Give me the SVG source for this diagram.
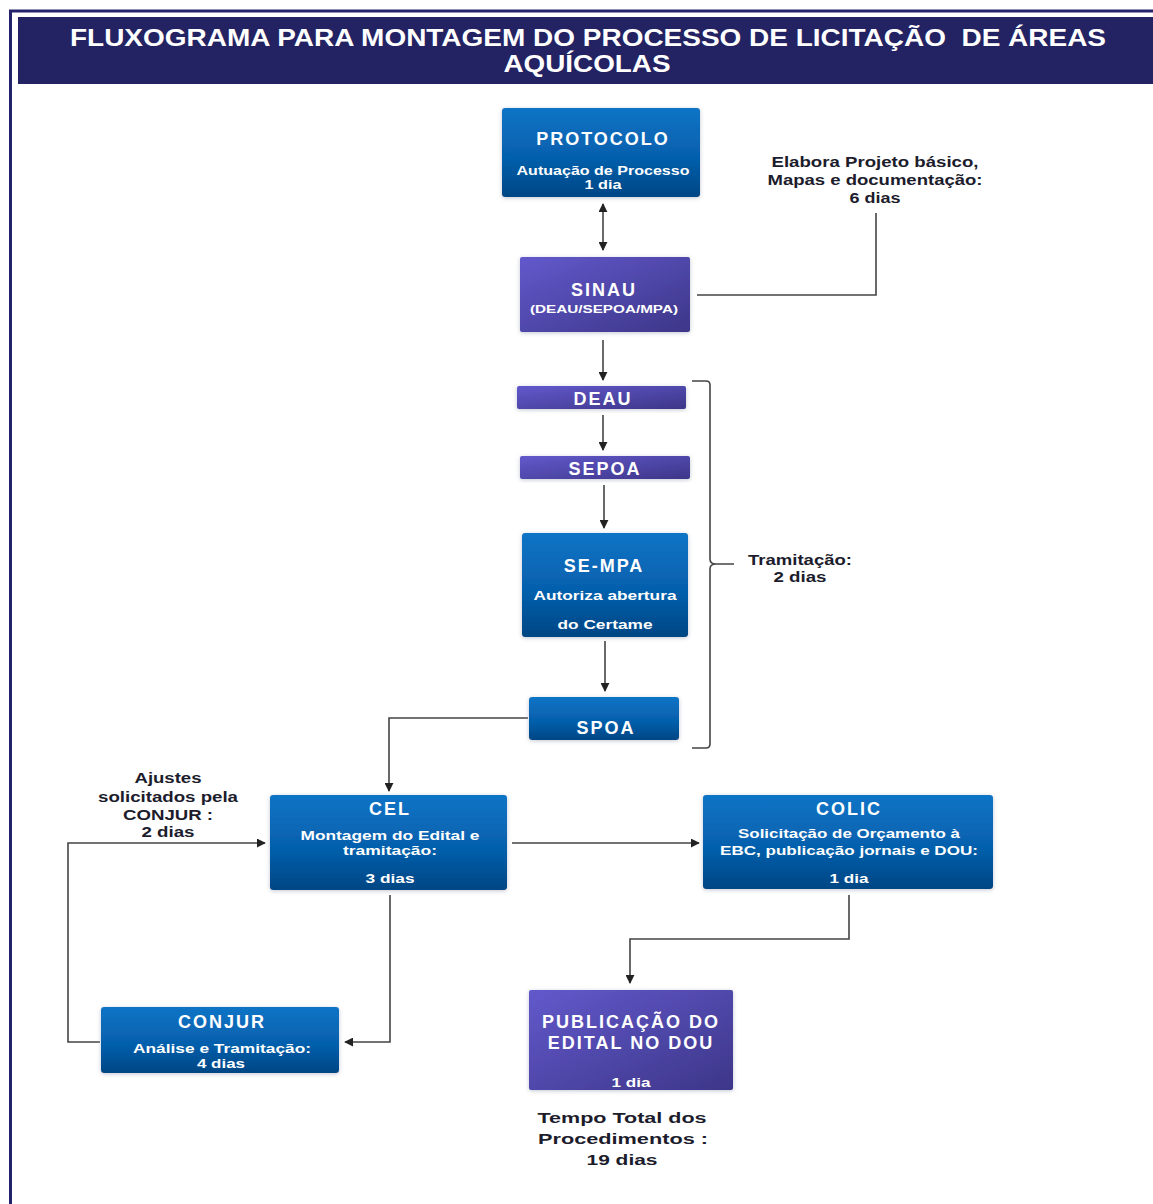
<svg xmlns="http://www.w3.org/2000/svg" width="1153" height="1204" viewBox="0 0 1153 1204">
<defs>
<linearGradient id="gBlue" x1="0" y1="0" x2="0" y2="1">
<stop offset="0" stop-color="#0a74c6"/>
<stop offset="0.55" stop-color="#0660ad"/>
<stop offset="1" stop-color="#034684"/>
</linearGradient>
<linearGradient id="gPurple" x1="0" y1="0" x2="1" y2="1">
<stop offset="0" stop-color="#6259cc"/>
<stop offset="1" stop-color="#3d3688"/>
</linearGradient>
<filter id="glow" x="-10%" y="-15%" width="120%" height="130%">
<feGaussianBlur in="SourceAlpha" stdDeviation="2"/>
<feOffset dx="0" dy="1" result="b"/>
<feFlood flood-color="#9aa3b5" flood-opacity="0.6"/>
<feComposite in2="b" operator="in"/>
<feMerge><feMergeNode/><feMergeNode in="SourceGraphic"/></feMerge>
</filter>
<marker id="arr" viewBox="0 0 10 10" refX="9" refY="5" markerWidth="9" markerHeight="9" markerUnits="userSpaceOnUse" orient="auto-start-reverse">
<path d="M0,0 L10,5 L0,10 z" fill="#222"/>
</marker>
</defs>
<style>
.blue{fill:url(#gBlue);filter:url(#glow)}
.purple{fill:url(#gPurple);filter:url(#glow)}
.t{font-family:"Liberation Sans",Arial,sans-serif;font-weight:bold;fill:#fff;text-anchor:middle}
.ttl{font-size:18px;letter-spacing:2px}
.sub{font-size:13px}
.lbl{font-family:"Liberation Sans",Arial,sans-serif;font-weight:bold;fill:#1c1c2c;text-anchor:middle;font-size:14px}
.ln{fill:none;stroke:#444;stroke-width:1.6}
.ar{fill:none;stroke:#444;stroke-width:1.6;marker-end:url(#arr)}
</style>
<rect width="1153" height="1204" fill="#fff"/>
<g id="frame">
<path d="M10.5,1204 V11 H1153" fill="none" stroke="#24226a" stroke-width="3"/>
<rect x="18" y="17" width="1135" height="67" fill="#232263"/>
<text class="t" x="588" y="46" font-size="24" textLength="1036" lengthAdjust="spacingAndGlyphs">FLUXOGRAMA PARA MONTAGEM DO PROCESSO DE LICITAÇÃO&#160; DE ÁREAS</text>
<text class="t" x="587" y="72" font-size="24" textLength="167" lengthAdjust="spacingAndGlyphs">AQUÍCOLAS</text>
</g>
<g id="connectors">
<line class="ar" x1="603" y1="204" x2="603" y2="250" marker-start="url(#arr)"/>
<polyline class="ln" points="697,295 876,295 876,213"/>
<line class="ar" x1="603" y1="340" x2="603" y2="380"/>
<line class="ar" x1="603" y1="415" x2="603" y2="450"/>
<line class="ar" x1="604" y1="485" x2="604" y2="528"/>
<line class="ar" x1="605" y1="641" x2="605" y2="691"/>
<polyline class="ar" points="528,718 389,718 389,791"/>
<line class="ar" x1="512" y1="843" x2="699" y2="843"/>
<polyline class="ar" points="849,895 849,939 630,939 630,983"/>
<polyline class="ar" points="390,895 390,1042 345,1042"/>
<polyline class="ar" points="100,1042 68,1042 68,843 265,843"/>
<path class="ln" d="M692,381 H706 Q710,381 710,385 V559 Q710,564 716,564 H734 M716,564 Q710,564 710,569 V744 Q710,748 706,748 H692"/>
</g>
<g id="protocolo">
<rect class="blue" x="502" y="108" width="198" height="89" rx="3"/>
<text class="t ttl" x="603" y="145">PROTOCOLO</text>
<text class="t sub" x="603" y="175" textLength="173" lengthAdjust="spacingAndGlyphs">Autuação de Processo</text>
<text class="t sub" x="603" y="189" textLength="37" lengthAdjust="spacingAndGlyphs">1 dia</text>
</g>
<g id="sinau">
<rect class="purple" x="520" y="257" width="170" height="75" rx="2"/>
<text class="t ttl" x="604" y="296">SINAU</text>
<text class="t" x="604" y="313" font-size="11" textLength="148" lengthAdjust="spacingAndGlyphs">(DEAU/SEPOA/MPA)</text>
</g>
<g id="elabora">
<text class="lbl" x="875" y="167" textLength="207" lengthAdjust="spacingAndGlyphs">Elabora Projeto básico,</text>
<text class="lbl" x="875" y="185" textLength="215" lengthAdjust="spacingAndGlyphs">Mapas e documentação:</text>
<text class="lbl" x="875" y="203" textLength="51" lengthAdjust="spacingAndGlyphs">6 dias</text>
</g>
<g id="deau">
<rect class="purple" x="517" y="386" width="169" height="23" rx="2"/>
<text class="t ttl" x="603" y="405">DEAU</text>
</g>
<g id="sepoa">
<rect class="purple" x="520" y="456" width="170" height="23" rx="2"/>
<text class="t ttl" x="605" y="475">SEPOA</text>
</g>
<g id="se-mpa">
<rect class="blue" x="522" y="533" width="166" height="104" rx="3"/>
<text class="t ttl" x="604" y="572">SE-MPA</text>
<text class="t sub" x="605" y="600" textLength="143" lengthAdjust="spacingAndGlyphs">Autoriza abertura</text>
<text class="t sub" x="605" y="629" textLength="95" lengthAdjust="spacingAndGlyphs">do Certame</text>
</g>
<g id="spoa">
<rect class="blue" x="529" y="697" width="150" height="43" rx="3"/>
<text class="t ttl" x="606" y="734">SPOA</text>
</g>
<g id="tramitacao">
<text class="lbl" x="800" y="565" textLength="104" lengthAdjust="spacingAndGlyphs">Tramitação:</text>
<text class="lbl" x="800" y="582" textLength="53" lengthAdjust="spacingAndGlyphs">2 dias</text>
</g>
<g id="cel">
<rect class="blue" x="270" y="795" width="237" height="95" rx="3"/>
<text class="t ttl" x="390" y="815">CEL</text>
<text class="t sub" x="390" y="840" textLength="179" lengthAdjust="spacingAndGlyphs">Montagem do Edital e</text>
<text class="t sub" x="390" y="855" textLength="94" lengthAdjust="spacingAndGlyphs">tramitação:</text>
<text class="t sub" x="390" y="883" textLength="49" lengthAdjust="spacingAndGlyphs">3 dias</text>
</g>
<g id="colic">
<rect class="blue" x="703" y="795" width="290" height="94" rx="3"/>
<text class="t ttl" x="849" y="815">COLIC</text>
<text class="t sub" x="849" y="838" textLength="222" lengthAdjust="spacingAndGlyphs">Solicitação de Orçamento à</text>
<text class="t sub" x="849" y="855" textLength="258" lengthAdjust="spacingAndGlyphs">EBC, publicação jornais e DOU:</text>
<text class="t sub" x="849" y="883" textLength="39" lengthAdjust="spacingAndGlyphs">1 dia</text>
</g>
<g id="publicacao">
<rect class="purple" x="529" y="990" width="204" height="100" rx="2"/>
<text class="t ttl" x="631" y="1028" letter-spacing="1">PUBLICAÇÃO DO</text>
<text class="t ttl" x="631" y="1049" letter-spacing="1">EDITAL NO DOU</text>
<text class="t sub" x="631" y="1087" textLength="39" lengthAdjust="spacingAndGlyphs">1 dia</text>
</g>
<g id="tempo-total">
<text class="lbl" x="622" y="1123" font-size="16" textLength="169" lengthAdjust="spacingAndGlyphs">Tempo Total dos</text>
<text class="lbl" x="623" y="1144" font-size="16" textLength="170" lengthAdjust="spacingAndGlyphs">Procedimentos :</text>
<text class="lbl" x="622" y="1165" font-size="16" textLength="71" lengthAdjust="spacingAndGlyphs">19 dias</text>
</g>
<g id="conjur">
<rect class="blue" x="101" y="1007" width="238" height="66" rx="3"/>
<text class="t ttl" x="222" y="1028">CONJUR</text>
<text class="t sub" x="222" y="1053" textLength="178" lengthAdjust="spacingAndGlyphs">Análise e Tramitação:</text>
<text class="t sub" x="221" y="1068" textLength="48" lengthAdjust="spacingAndGlyphs">4 dias</text>
</g>
<g id="ajustes">
<text class="lbl" x="168" y="783" textLength="67" lengthAdjust="spacingAndGlyphs">Ajustes</text>
<text class="lbl" x="168" y="802" textLength="140" lengthAdjust="spacingAndGlyphs">solicitados pela</text>
<text class="lbl" x="168" y="820" textLength="90" lengthAdjust="spacingAndGlyphs">CONJUR :</text>
<text class="lbl" x="168" y="837" textLength="53" lengthAdjust="spacingAndGlyphs">2 dias</text>
</g>
</svg>
